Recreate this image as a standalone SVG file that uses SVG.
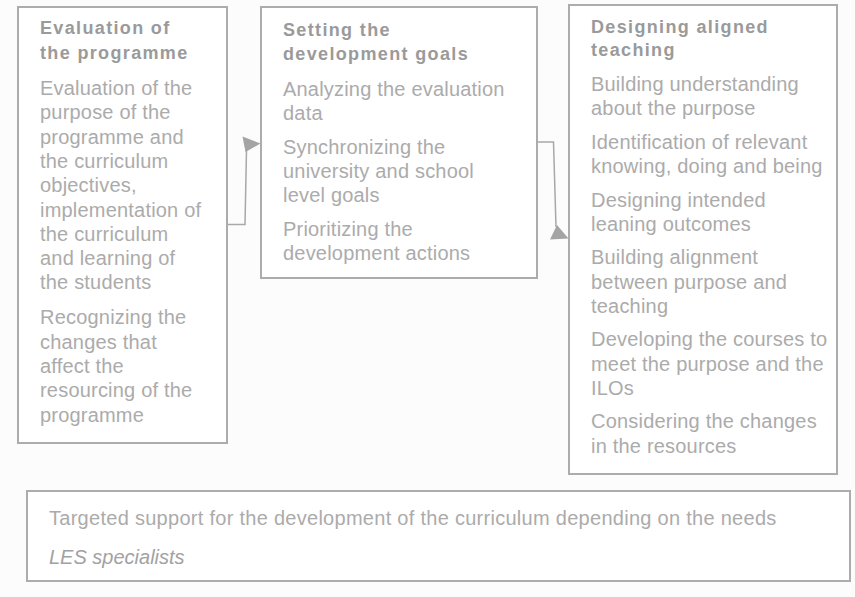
<svg xmlns="http://www.w3.org/2000/svg" width="855" height="597" viewBox="0 0 855 597">
<style>
.box{fill:#ffffff;stroke:#acacac;stroke-width:2}
.t{font-family:"Liberation Sans",Arial,sans-serif;font-size:18px;font-weight:bold;fill:#9a9a9a;letter-spacing:1.35px}
.b{font-family:"Liberation Sans",Arial,sans-serif;font-size:20px;fill:#ababab;letter-spacing:0.2px}
.w{letter-spacing:0.28px}
.i{font-family:"Liberation Sans",Arial,sans-serif;font-size:20px;font-style:italic;fill:#a2a2a2}
.c{fill:none;stroke:#a8a8a8;stroke-width:1.5}
.ah{fill:#a4a4a4}
</style>
<rect width="855" height="597" fill="#fcfcfc"/>
<g id="connectors">
<polyline class="c" points="227,224.5 245,224.5 246.5,150"/>
<polygon class="ah" points="242.5,136.5 260.5,143.5 245.5,152"/>
<polyline class="c" points="537,142 553.5,142 556,227"/>
<polygon class="ah" points="557,225 568.5,238.5 550,239.5"/>
</g>
<g id="node-evaluation">
<rect class="box" x="18" y="7" width="209" height="436"/>
<text class="t" x="40" y="34">Evaluation of</text>
<text class="t" x="40" y="58.5">the programme</text>
<text class="b" x="40" y="95">Evaluation of the</text>
<text class="b" x="40" y="119.3">purpose of the</text>
<text class="b" x="40" y="143.6">programme and</text>
<text class="b" x="40" y="167.9">the curriculum</text>
<text class="b" x="40" y="192.2">objectives,</text>
<text class="b" x="40" y="216.5">implementation of</text>
<text class="b" x="40" y="240.8">the curriculum</text>
<text class="b" x="40" y="265.1">and learning of</text>
<text class="b" x="40" y="289.4">the students</text>
<text class="b" x="40" y="324.4">Recognizing the</text>
<text class="b" x="40" y="348.7">changes that</text>
<text class="b" x="40" y="373">affect the</text>
<text class="b" x="40" y="397.3">resourcing of the</text>
<text class="b" x="40" y="421.6">programme</text>
</g>
<g id="node-goals">
<rect class="box" x="261" y="7" width="276" height="271"/>
<text class="t" x="283" y="35.5">Setting the</text>
<text class="t" x="283" y="60">development goals</text>
<text class="b" x="283" y="96">Analyzing the evaluation</text>
<text class="b" x="283" y="120">data</text>
<text class="b" x="283" y="153.5">Synchronizing the</text>
<text class="b" x="283" y="177.7">university and school</text>
<text class="b" x="283" y="201.9">level goals</text>
<text class="b" x="283" y="236">Prioritizing the</text>
<text class="b" x="283" y="260.2">development actions</text>
</g>
<g id="node-designing">
<rect class="box" x="569" y="5" width="268" height="469"/>
<text class="t" x="591" y="33">Designing aligned</text>
<text class="t" x="591" y="56">teaching</text>
<text class="b" x="591" y="91">Building understanding</text>
<text class="b" x="591" y="115.2">about the purpose</text>
<text class="b" x="591" y="148.8">Identification of relevant</text>
<text class="b" x="591" y="173">knowing, doing and being</text>
<text class="b" x="591" y="206.6">Designing intended</text>
<text class="b" x="591" y="230.8">leaning outcomes</text>
<text class="b" x="591" y="264.4">Building alignment</text>
<text class="b" x="591" y="288.6">between purpose and</text>
<text class="b" x="591" y="312.8">teaching</text>
<text class="b" x="591" y="346.4">Developing the courses to</text>
<text class="b" x="591" y="370.6">meet the purpose and the</text>
<text class="b" x="591" y="394.8">ILOs</text>
<text class="b" x="591" y="428.4">Considering the changes</text>
<text class="b" x="591" y="452.6">in the resources</text>
</g>
<g id="node-support">
<rect class="box" x="27" y="491" width="823" height="90"/>
<text class="b w" x="49" y="524.5">Targeted support for the development of the curriculum depending on the needs</text>
<text class="i" x="49" y="563.5">LES specialists</text>
</g>
</svg>
